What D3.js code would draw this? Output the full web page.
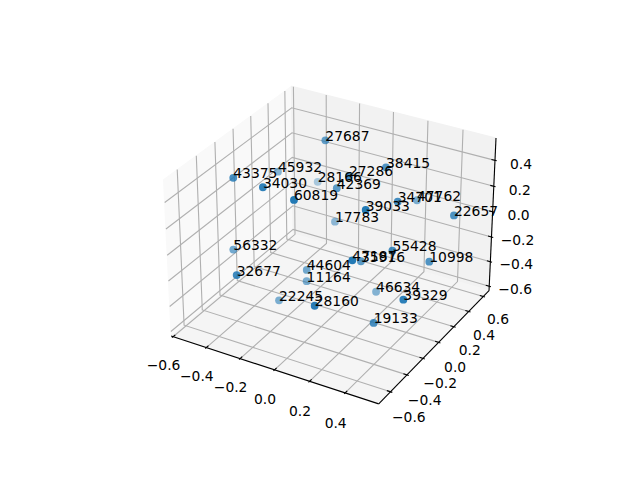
<!DOCTYPE html>
<html><head><meta charset="utf-8"><script src="https://d3js.org/d3.v7.min.js"></script>
<style>body{margin:0;background:#fff}svg{display:block}text{font-family:"DejaVu Sans";font-size:13.89px;fill:#000}</style></head><body>
<script>
const labels=["27687","38415","27286","28166","42369","45932","43375","34030","60819","39033","34701","47762","22657","17783","56332","55428","47187","35916","10998","44604","32677","11164","22245","28160","46634","39329","19133"];
const xs=[-.160,.207,.101,-.442,-.017,-.467,-.387,-.172,.023,.330,.339,.231,.565,-.186,-.478,.376,.335,.178,.509,-.129,-.218,-.155,-.253,.221,.128,.564,.385];
const ys=[.180,.138,-.080,.656,.022,.226,-.420,-.504,-.545,-.367,-.003,.489,.196,.349,-.277,-.141,-.528,-.093,.025,-.109,-.719,-.060,-.194,-.719,.208,-.417,-.377];
const zs=[.548,.494,.506,-.126,.317,.173,.495,.548,.549,.493,.359,.063,.231,-.188,-.170,.080,.215,-.108,-.048,-.290,-.006,-.420,-.534,-.058,-.550,-.053,-.332];
const xTicks=[-.6,-.4,-.2,0,.2,.4];
const yTicks=[-.6,-.4,-.2,0,.2,.4,.6];
const zTicks=[-.6,-.4,-.2,0,.2,.4];
const xLim=[-.612,.585],yLim=[-.74,.68],zLim=[-.637,.57];

const BOX=[1.1905,1.1905,.8929];
const sxS=d3.scaleLinear().domain(xLim).range([0,BOX[0]]);
const syS=d3.scaleLinear().domain(yLim).range([0,BOX[1]]);
const szS=d3.scaleLinear().domain(zLim).range([0,BOX[2]]);
const px=d3.scaleLinear().domain([-.095,.09]).range([143.2,512.8]);
const py=d3.scaleLinear().domain([-.095,.09]).range([427.2,57.6]);
const U=[.8660254,.5,0],V=[-.25,.4330127,.8660254],W=[.4330127,-.75,.5];
const dot=(a,b)=>a[0]*b[0]+a[1]*b[1]+a[2]*b[2];
function proj(x,y,z){const p=[sxS(x)-BOX[0]/2,syS(y)-BOX[1]/2,szS(z)-BOX[2]/2];
  const d=10-dot(p,W);return {x:px(dot(p,U)/d),y:py(dot(p,V)/d),depth:-10/d};}
const path=pts=>d3.line().x(d=>d.x).y(d=>d.y)(pts.map(p=>proj(...p)));

const svg=d3.select("body").append("svg").attr("width",640).attr("height",480);
const [x0,x1]=xLim,[y0,y1]=yLim,[z0,z1]=zLim;
const pane=(pts,c)=>svg.append("path").attr("d",path(pts)+"Z").attr("fill",c).attr("stroke",c).attr("stroke-width",1);
pane([[x0,y0,z0],[x0,y1,z0],[x0,y1,z1],[x0,y0,z1]],"#f9f9f9");
pane([[x0,y1,z0],[x1,y1,z0],[x1,y1,z1],[x0,y1,z1]],"#f2f2f2");
pane([[x0,y0,z0],[x1,y0,z0],[x1,y1,z0],[x0,y1,z0]],"#f5f5f5");

const g=svg.append("g").attr("fill","none").attr("stroke","#b0b0b0").attr("stroke-width",1.11);
xTicks.forEach(t=>g.append("path").attr("d",path([[t,y0,z0],[t,y1,z0],[t,y1,z1]])));
yTicks.forEach(t=>g.append("path").attr("d",path([[x1,t,z0],[x0,t,z0],[x0,t,z1]])));
zTicks.forEach(t=>g.append("path").attr("d",path([[x0,y0,t],[x0,y1,t],[x1,y1,t]])));

const a=svg.append("g").attr("fill","none").attr("stroke","#000").attr("stroke-width",1.11);
a.append("path").attr("d",path([[x0,y0,z0],[x1,y0,z0]]));
a.append("path").attr("d",path([[x1,y0,z0],[x1,y1,z0]]));
a.append("path").attr("d",path([[x1,y1,z0],[x1,y1,z1]]));
const dx=(x1-x0)/12,dy=(y1-y0)/12;
xTicks.forEach(t=>a.append("path").attr("d",path([[t,y0-.1*dy,z0],[t,y0+.2*dy,z0]])));
yTicks.forEach(t=>a.append("path").attr("d",path([[x1+.1*dx,t,z0],[x1-.2*dx,t,z0]])));
zTicks.forEach(t=>a.append("path").attr("d",path([[x1+.1*dx,y1,t],[x1-.2*dx,y1,t]])));

const fmt=t=>d3.format(".1f")(t).replace("-","\u2212");
const tl=(t,p,ox,oy)=>svg.append("text").attr("x",p.x+ox).attr("y",p.y+oy).attr("text-anchor","middle").attr("dominant-baseline","central").text(fmt(t));
const xOy=d3.scaleLinear().domain([-.6,.4]).range([28,30]);
const yOx=d3.scaleLinear().domain([-.6,.6]).range([18.3,14.7]);
const yOy=d3.scaleLinear().domain([-.6,.6]).range([25.6,22.7]);
const zOy=d3.scaleLinear().domain([-.6,.4]).range([2.3,4]);
xTicks.forEach(t=>tl(t,proj(t,y0,z0),-9.5,xOy(t)));
yTicks.forEach(t=>tl(t,proj(x1,t,z0),yOx(t),yOy(t)));
zTicks.forEach(t=>tl(t,proj(x1,y1,t),26,zOy(t)));

const P=labels.map((l,i)=>({l,...proj(xs[i],ys[i],zs[i])}));
const alpha=d3.scaleLinear().domain(d3.extent(P,d=>d.depth)).range([.98,.35]);
svg.append("g").selectAll("circle").data(P).join("circle")
  .attr("cx",d=>d.x).attr("cy",d=>d.y).attr("r",3.9).attr("fill","#1f77b4").attr("fill-opacity",d=>alpha(d.depth));
svg.append("g").selectAll("text").data(P).join("text").attr("x",d=>d.x).attr("y",d=>d.y+.5).text(d=>d.l);
</script></body></html>
